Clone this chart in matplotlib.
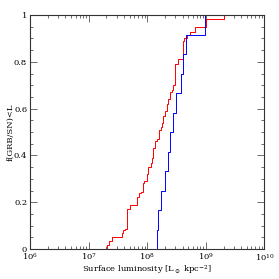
import matplotlib
matplotlib.use('Agg')
import matplotlib.pyplot as plt
import numpy as np
from matplotlib.ticker import LogLocator, MultipleLocator, NullFormatter

# cumulative fraction vs surface luminosity (step positions)
red_lum = [2.04e7, 2.25e7, 2.48e7, 3.67e7, 3.91e7, 4.18e7, 4.47e7, 5.09e7,
           6.78e7, 7.33e7, 7.75e7, 8.38e7, 8.82e7, 9.8e7, 1.045e8, 1.148e8,
           1.194e8, 1.27e8, 1.36e8, 1.45e8, 1.61e8, 1.70e8, 1.79e8, 1.88e8,
           2.01e8, 2.15e8, 2.29e8, 2.45e8, 2.62e8, 2.79e8, 2.98e8, 3.40e8,
           4.04e8, 4.30e8, 4.72e8, 5.37e8, 6.54e8, 9.88e8, 2.07e9]
red_frac = [0.017, 0.036, 0.05, 0.07, 0.081, 0.086, 0.171, 0.19,
            0.224, 0.238, 0.245, 0.28, 0.29, 0.32, 0.35, 0.367,
            0.39, 0.43, 0.46, 0.47, 0.51, 0.52, 0.54, 0.57,
            0.59, 0.62, 0.64, 0.67, 0.68, 0.70, 0.79, 0.81,
            0.89, 0.90, 0.915, 0.929, 0.947, 0.982, 1.0]

blue_lum = [1.45e8, 1.55e8, 1.72e8, 2.01e8, 2.29e8, 2.45e8,
            2.79e8, 3.04e8, 3.82e8, 4.13e8, 4.59e8, 9.68e8]
blue_frac = [k / 12 for k in range(1, 13)]

y_ticks = [0, 0.2, 0.4, 0.6, 0.8, 1]
y_labels = ['0', '0.2', '0.4', '0.6', '0.8', '1']

plt.rcParams['font.family'] = ['DejaVu Serif']
plt.rcParams['mathtext.fontset'] = 'dejavuserif'

fig = plt.figure(figsize=(2.79, 2.79), dpi=100)
ax = fig.add_axes([0.1075, 0.1075, 0.8405, 0.8387])

for lum, frac, col in [(red_lum, red_frac, 'red'), (blue_lum, blue_frac, 'blue')]:
    xs = [lum[0]] + list(lum)
    ys = [0] + list(frac)
    ax.step(xs, ys, where='post', color=col, lw=0.7)

ax.set_xscale('log')
ax.set_xlim(1e6, 1e10)
ax.set_ylim(0, 1)
ax.xaxis.set_major_locator(LogLocator(base=10, numticks=10))
ax.xaxis.set_minor_locator(LogLocator(base=10, subs=np.arange(2, 10), numticks=20))
ax.xaxis.set_minor_formatter(NullFormatter())
ax.yaxis.set_minor_locator(MultipleLocator(0.05))
ax.set_yticks(y_ticks)
ax.set_yticklabels(y_labels)

ax.tick_params(which='both', direction='in', top=True, right=True,
               labelsize=6, width=0.5, color='#333333', pad=2)
ax.tick_params(which='major', length=5)
ax.tick_params(which='minor', length=2.5)
for s in ax.spines.values():
    s.set_linewidth(0.8)
    s.set_color('#333333')

ax.set_xlabel(r'Surface luminosity [L$_\odot$ kpc$^{-2}$]', fontsize=6)
ax.set_ylabel('f(GRB/SN)<L', fontsize=6)
ax.xaxis.set_label_coords(0.5, -0.062)
ax.yaxis.set_label_coords(-0.065, 0.5)

fig.savefig('out.png', dpi=100)
